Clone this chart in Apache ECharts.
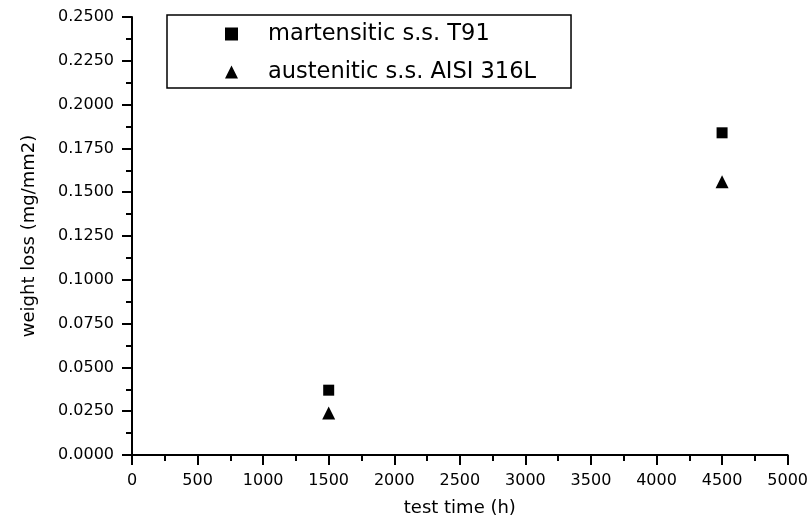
<!DOCTYPE html>
<html>
<head>
<meta charset="utf-8">
<script src="https://cdn.jsdelivr.net/npm/echarts@6/dist/echarts.min.js"></script>
<style>html,body{margin:0;padding:0;background:#fff}#c{width:811px;height:522px}</style>
</head>
<body>
<div id="c"></div>
<script>
var seriesNames = ['martensitic s.s. T91', 'austenitic s.s. AISI 316L'];
var testTime = [1500, 4500];
var t91Loss = [0.0370, 0.1839];
var aisi316Loss = [0.0240, 0.1560];
var xTicks = [0, 5000, 500];
var yTicks = [0, 0.25, 0.025];

var font = 'DejaVu Sans';
var chart = echarts.init(document.getElementById('c'), null, {renderer: 'canvas'});
function pairs(xs, ys) { return xs.map(function (x, i) { return [x, ys[i]]; }); }
chart.setOption({
  backgroundColor: '#fff',
  animation: false,
  grid: {left: 132, right: 22, top: 17, bottom: 67, containLabel: false},
  legend: {
    left: 167, top: 15, orient: 'vertical',
    padding: [6, 35, 3, 58],
    borderColor: '#000', borderWidth: 1.5,
    itemWidth: 13, itemHeight: 13, itemGap: 12,
    itemStyle: {color: '#000', opacity: 1},
    textStyle: {fontFamily: font, fontSize: 22.5, color: '#000', lineHeight: 26, padding: [0, 0, 0, 25]},
    data: [{name: seriesNames[0], icon: 'rect'}, {name: seriesNames[1], icon: 'triangle'}]
  },
  xAxis: {
    type: 'value', min: xTicks[0], max: xTicks[1], interval: xTicks[2],
    name: 'test time (h)', nameLocation: 'middle', nameGap: 44,
    nameTextStyle: {fontFamily: font, fontSize: 18, color: '#000'},
    axisLine: {show: true, onZero: false, lineStyle: {color: '#000', width: 2}},
    axisTick: {show: true, inside: false, length: 10, lineStyle: {color: '#000', width: 2}},
    minorTick: {show: true, splitNumber: 2, length: 6, lineStyle: {color: '#000', width: 2}},
    axisLabel: {fontFamily: font, fontSize: 16, color: '#000', margin: 18,
      formatter: function (v) { return String(v); }},
    splitLine: {show: false}
  },
  yAxis: {
    type: 'value', min: yTicks[0], max: yTicks[1], interval: yTicks[2],
    name: 'weight loss (mg/mm2)', nameLocation: 'middle', nameGap: 94,
    nameTextStyle: {fontFamily: font, fontSize: 18, color: '#000'},
    axisLine: {show: true, onZero: false, lineStyle: {color: '#000', width: 2}},
    axisTick: {show: true, inside: false, length: 10, lineStyle: {color: '#000', width: 2}},
    minorTick: {show: true, splitNumber: 2, length: 6, lineStyle: {color: '#000', width: 2}},
    axisLabel: {fontFamily: font, fontSize: 16, color: '#000', margin: 18,
      formatter: function (v) { return v.toFixed(4); }},
    splitLine: {show: false}
  },
  series: [
    {name: seriesNames[0], type: 'scatter', symbol: 'rect', symbolSize: 11,
     itemStyle: {color: '#000', opacity: 1}, data: pairs(testTime, t91Loss)},
    {name: seriesNames[1], type: 'scatter', symbol: 'triangle', symbolSize: 13,
     itemStyle: {color: '#000', opacity: 1}, data: pairs(testTime, aisi316Loss)}
  ]
});
</script>
</body>
</html>
